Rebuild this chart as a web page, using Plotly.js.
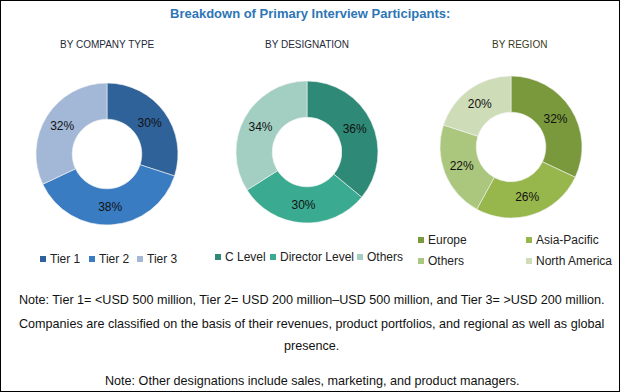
<!DOCTYPE html>
<html><head><meta charset="utf-8">
<script src="https://cdn.plot.ly/plotly-3.0.1.min.js"></script>
<style>html,body{margin:0;padding:0;background:#fff}</style>
</head><body><div id="chart" style="width:620px;height:392px"></div>
<script>
const companyLabels = ["Tier 1", "Tier 2", "Tier 3"];
const companyValues = [30, 38, 32];
const designationLabels = ["C Level", "Director Level", "Others"];
const designationValues = [36, 30, 34];
const regionLabels = ["Europe", "Asia-Pacific", "Others", "North America"];
const regionValues = [32, 26, 22, 20];

const companyColors = ["#2E6299", "#3A7CC2", "#A3B7D7"];
const designationColors = ["#2E8A77", "#3AAB90", "#A3CFC3"];
const regionColors = ["#7A993D", "#97B64C", "#ABC67D", "#CEDCB7"];

const W = 620, H = 392;
function dom(cx, cy, r) {
  return {x: [(cx - r) / W, (cx + r) / W], y: [(H - cy - r) / H, (H - cy + r) / H]};
}
function pie(labels, values, colors, d) {
  return {
    type: "pie", labels: labels, values: values, sort: false, direction: "clockwise", rotation: 0,
    hole: 0.49, domain: d, showlegend: false,
    marker: {colors: colors, line: {color: "#f4f4f4", width: 0.6}},
    texttemplate: "%{value}%", textposition: "inside", insidetextorientation: "horizontal",
    textfont: {family: "Liberation Sans", size: 12, color: "#111"}, hoverinfo: "label+percent"
  };
}
const data = [
  pie(companyLabels, companyValues, companyColors, dom(107, 154, 71)),
  pie(designationLabels, designationValues, designationColors, dom(307, 152, 71)),
  pie(regionLabels, regionValues, regionColors, dom(511, 147, 71))
];

const annotations = [];
const shapes = [{type: "rect", xref: "paper", yref: "paper", x0: 0, x1: 1, y0: 0, y1: 1,
  line: {color: "#000", width: 2}, fillcolor: "rgba(0,0,0,0)"}];
function txt(text, x, y, opts) {
  annotations.push(Object.assign({text: text, x: x / W, y: 1 - y / H, xref: "paper", yref: "paper",
    showarrow: false, xanchor: "center", yanchor: "middle",
    font: {family: "Liberation Sans", size: 11.5, color: "#111"}}, opts || {}));
}
txt("<b>Breakdown of Primary Interview Participants:</b>", 310, 14, {font: {family: "Liberation Sans", size: 13, color: "#2E75B6"}});
txt("BY COMPANY TYPE", 107, 44, {font: {family: "Liberation Sans", size: 10, color: "#1F2A3A"}});
txt("BY DESIGNATION", 307, 44, {font: {family: "Liberation Sans", size: 10, color: "#1F2A3A"}});
txt("BY REGION", 519, 44, {font: {family: "Liberation Sans", size: 10, color: "#3A3A20"}});

function legendItem(label, color, sx, y) {
  shapes.push({type: "rect", xref: "paper", yref: "paper", x0: sx / W, x1: (sx + 6) / W,
    y0: 1 - (y + 3) / H, y1: 1 - (y - 3) / H, fillcolor: color, line: {width: 0}});
  txt(label, sx + 8, y, {xanchor: "left", font: {family: "Liberation Sans", size: 12, color: "#222"}});
}
const compX = [40, 89, 137];
companyLabels.forEach((l, i) => legendItem(l, companyColors[i], compX[i], 259));
const desX = [215, 270, 357];
designationLabels.forEach((l, i) => legendItem(l, designationColors[i], desX[i], 257));
const regX = [418, 526, 418, 526];
const regY = [240, 240, 261, 261];
regionLabels.forEach((l, i) => legendItem(l, regionColors[i], regX[i], regY[i]));

const noteFont = {family: "Liberation Sans", size: 12.6, color: "#111"};
txt("Note: Tier 1= &lt;USD 500 million, Tier 2= USD 200 million–USD 500 million, and Tier 3= &gt;USD 200 million.", 312, 300, {font: noteFont});
txt("Companies are classified on the basis of their revenues, product portfolios, and regional as well as global", 312, 324, {font: noteFont});
txt("presence.", 312, 346, {font: noteFont});
txt("Note: Other designations include sales, marketing, and product managers.", 312, 381, {font: noteFont});

const layout = {
  width: W, height: H, margin: {l: 0, r: 0, t: 0, b: 0},
  paper_bgcolor: "#fff", plot_bgcolor: "#fff", showlegend: false,
  annotations: annotations, shapes: shapes
};
Plotly.newPlot("chart", data, layout, {displayModeBar: false, staticPlot: true});
</script></body></html>
